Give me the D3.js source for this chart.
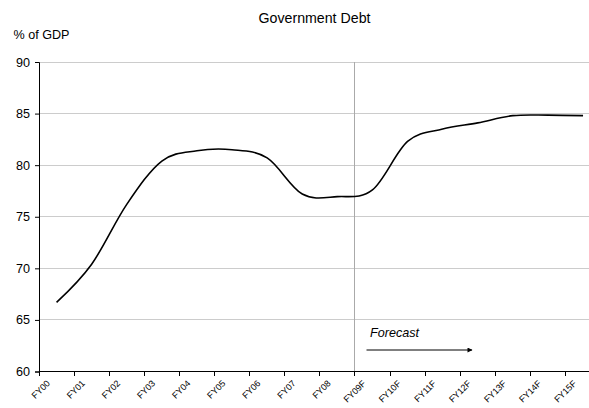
<!DOCTYPE html>
<html>
<head>
<meta charset="utf-8">
<script src="https://cdn.jsdelivr.net/npm/d3@7"></script>
<style>
  html, body { margin: 0; padding: 0; background: #fff; }
  svg { display: block; font-family: Arial, "Liberation Sans", sans-serif; }
</style>
</head>
<body>
<svg id="chart" width="589" height="408"></svg>
<script>
// Fiscal years (F = forecast) and government debt as % of GDP
const categories = ["FY00", "FY01", "FY02", "FY03", "FY04", "FY05", "FY06", "FY07", "FY08",
                    "FY09F", "FY10F", "FY11F", "FY12F", "FY13F", "FY14F", "FY15F"];
const debt = [66.7, 70.4, 76.2, 80.4, 81.4, 81.5, 80.7, 77.2, 76.95,
              77.6, 82.3, 83.5, 84.1, 84.8, 84.85, 84.8];
const yTicks = [60, 65, 70, 75, 80, 85, 90];
const forecastStart = "FY09F";

(function () {
  const svg = d3.select("#chart");
  const W = 589;
  const plotLeft = 39, plotTop = 62, plotBottom = 371.5;
  const band = 35.1;

  const x = d3.scaleBand()
    .domain(categories)
    .range([plotLeft, plotLeft + band * categories.length])
    .paddingInner(0).paddingOuter(0);

  const y = d3.scaleLinear().domain([60, 90]).range([plotBottom, plotTop]);

  // Title and unit label
  svg.append("text")
    .attr("x", 314.5).attr("y", 23)
    .attr("text-anchor", "middle")
    .attr("font-size", 14.2)
    .attr("fill", "#000")
    .text("Government Debt");

  svg.append("text")
    .attr("x", 13.5).attr("y", 39.3)
    .attr("font-size", 12.6)
    .attr("fill", "#000")
    .text("% of GDP");

  // Horizontal gridlines
  svg.append("g")
    .selectAll("line")
    .data(yTicks.filter(d => d > 60))
    .join("line")
    .attr("x1", plotLeft).attr("x2", W)
    .attr("y1", d => y(d)).attr("y2", d => y(d))
    .attr("stroke", "#cccccc")
    .attr("stroke-width", 1)
    .attr("shape-rendering", "crispEdges");

  // Forecast divider
  svg.append("line")
    .attr("x1", x(forecastStart)).attr("x2", x(forecastStart))
    .attr("y1", plotTop).attr("y2", plotBottom)
    .attr("stroke", "#aaaaaa")
    .attr("stroke-width", 1)
    .attr("shape-rendering", "crispEdges");

  // Y axis
  const yAxis = svg.append("g")
    .attr("transform", `translate(${plotLeft},0)`)
    .call(d3.axisLeft(y).tickValues(yTicks).tickSize(4).tickPadding(5).tickFormat(d3.format("d")));
  yAxis.select(".domain").attr("stroke", "#000");
  yAxis.selectAll(".tick line").attr("stroke", "#000");
  yAxis.selectAll(".tick text")
    .attr("font-size", 12.6)
    .attr("font-family", 'Arial, "Liberation Sans", sans-serif')
    .attr("fill", "#000");

  // X axis: ticks on the category boundaries, labels rotated 45 degrees
  const xAxis = svg.append("g")
    .attr("transform", `translate(0,${plotBottom})`);
  xAxis.append("line")
    .attr("x1", plotLeft).attr("x2", W + 20)
    .attr("y1", 0).attr("y2", 0)
    .attr("stroke", "#000")
    .attr("shape-rendering", "crispEdges");
  xAxis.selectAll("line.tick")
    .data(categories)
    .join("line")
    .attr("class", "tick")
    .attr("x1", d => x(d)).attr("x2", d => x(d))
    .attr("y1", 0).attr("y2", 4)
    .attr("stroke", "#000")
    .attr("shape-rendering", "crispEdges");
  const c = Math.SQRT1_2;
  xAxis.selectAll("text.xlabel")
    .data(categories)
    .join("text")
    .attr("class", "xlabel")
    .attr("transform", d => `matrix(${c},${-c},${c},${c},${x(d) + x.bandwidth() / 2 - 6},12.5)`)
    .attr("text-anchor", "end")
    .attr("font-size", 9)
    .attr("fill", "#000")
    .text(d => d);

  // Debt line
  const line = d3.line()
    .x((d, i) => x(categories[i]) + x.bandwidth() / 2)
    .y(d => y(d))
    .curve(d3.curveCatmullRom.alpha(0));

  svg.append("path")
    .datum(debt)
    .attr("d", line)
    .attr("fill", "none")
    .attr("stroke", "#000")
    .attr("stroke-width", 1.6);

  // Forecast annotation with arrow
  svg.append("defs").append("marker")
    .attr("id", "arrow")
    .attr("viewBox", "0 0 10 10")
    .attr("refX", 9).attr("refY", 5)
    .attr("markerWidth", 6).attr("markerHeight", 5)
    .attr("markerUnits", "userSpaceOnUse")
    .attr("orient", "auto")
    .append("path")
    .attr("d", "M0,0 L10,5 L0,10 Z")
    .attr("fill", "#000");

  svg.append("text")
    .attr("x", 370).attr("y", 337.3)
    .attr("font-size", 12.6)
    .attr("font-style", "italic")
    .attr("fill", "#000")
    .text("Forecast");

  svg.append("line")
    .attr("x1", 366.5).attr("x2", 472)
    .attr("y1", 350).attr("y2", 350)
    .attr("stroke", "#000")
    .attr("stroke-width", 1)
    .attr("marker-end", "url(#arrow)");
})();
</script>
</body>
</html>
